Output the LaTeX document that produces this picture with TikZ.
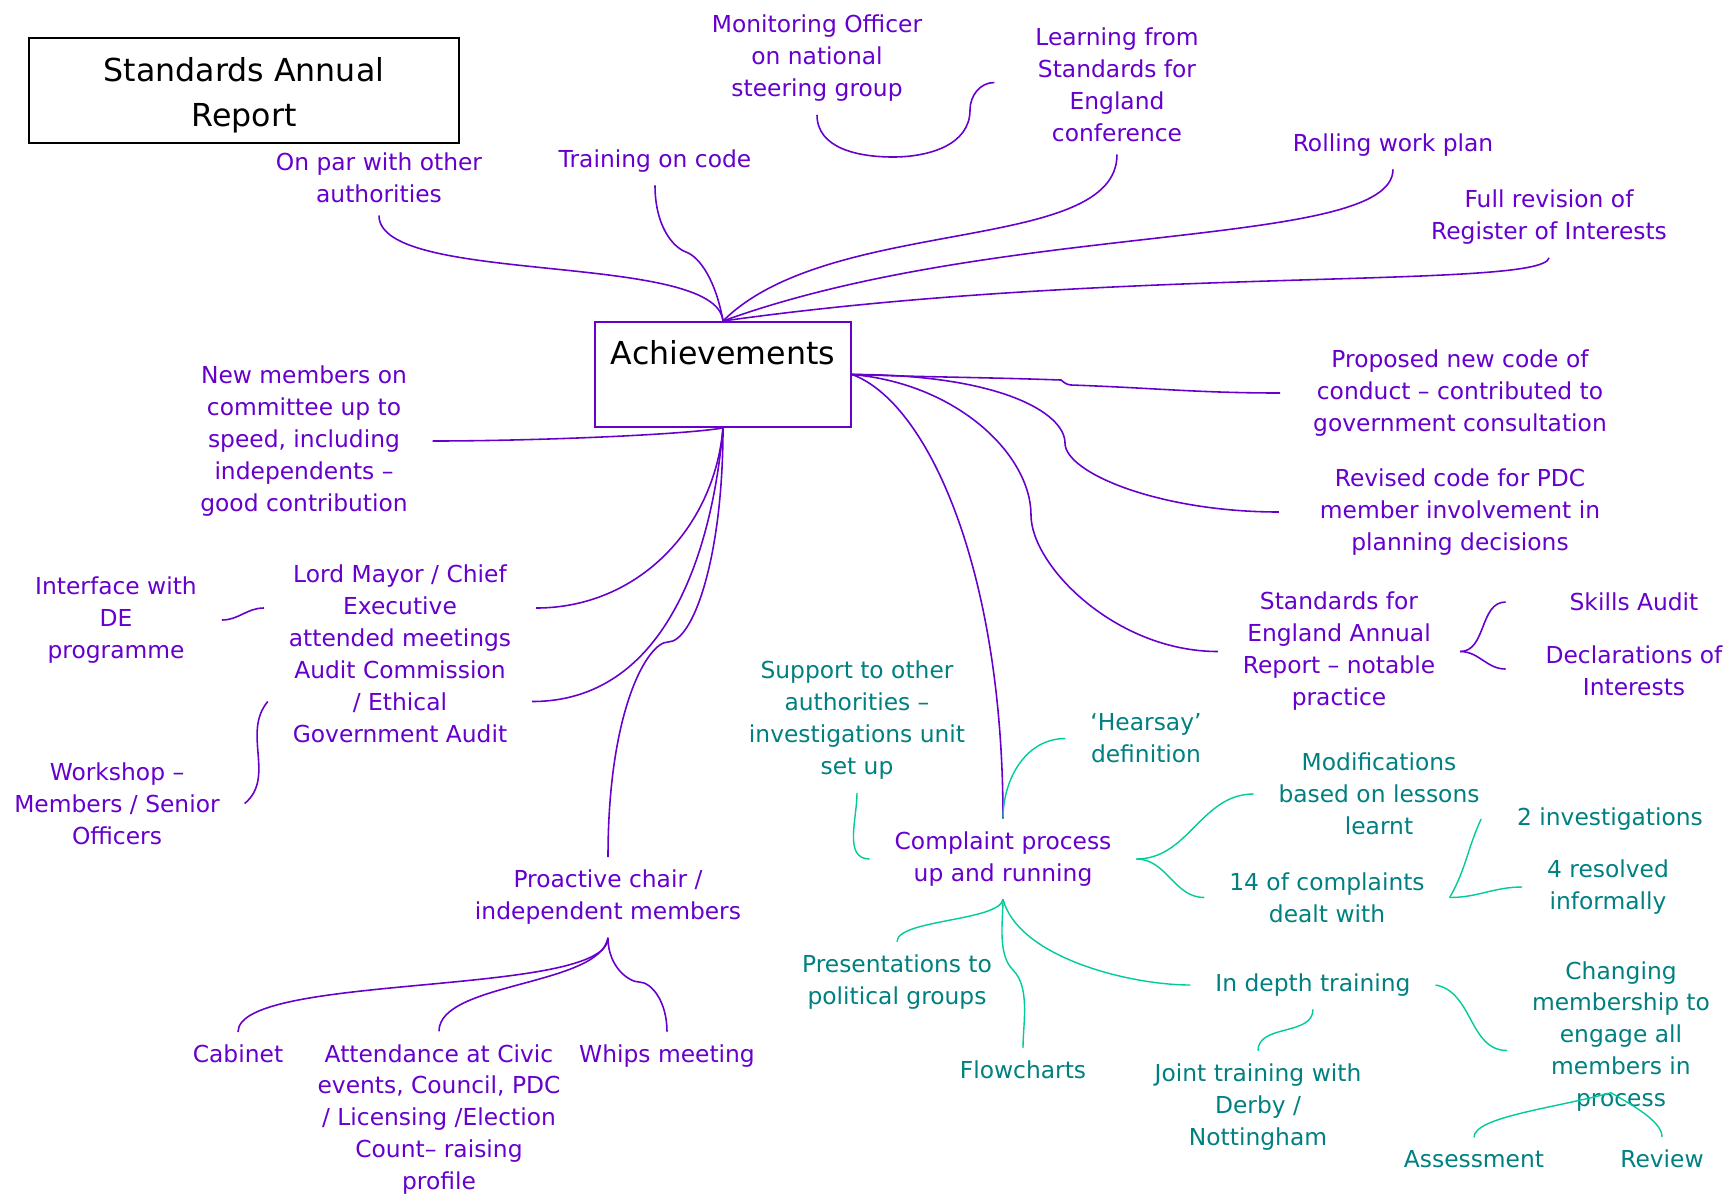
\documentclass[tikz,border=0pt]{standalone}
\usepackage{fontspec}
\setmainfont{DejaVu Sans}
\definecolor{achpurple}{RGB}{102,0,204}
\definecolor{achteal}{RGB}{0,128,128}
\definecolor{achgreen}{RGB}{0,204,153}

\begin{document}
\begin{tikzpicture}[x=0.02cm, y=-0.02cm,
	lbl/.style={align=center, inner sep=0pt, outer xsep=0.5cm, outer ysep=0.26cm, font=\fontsize{13.3}{18.2}\selectfont},
	plbl/.style={lbl, text=achpurple},
	tlbl/.style={lbl, text=achteal},
	pline/.style={draw=achpurple, line width=0.9pt},
	tline/.style={draw=achgreen, line width=0.8pt}]
	\useasboundingbox (0,0) rectangle (1731,1198);
	\node[draw, line width=1.1pt, minimum width=8.6cm, minimum height=2.1cm, align=center, font=\fontsize{18}{25.6}\selectfont] (title) at (244,90.5) {\rule{0pt}{0.68cm}Standards Annual\\Report};
	\node[draw=achpurple, line width=1.1pt, inner sep=0pt, minimum width=5.12cm, text height=0.86cm, text depth=1.24cm, anchor=north, font=\fontsize{18}{25.6}\selectfont] (ach) at (723,321) {Achievements};
	\node[plbl] (monitoring) at (817,58.5) {Monitoring Officer\\on national\\steering group};
	\node[plbl] (learning) at (1117,84.5) {Learning from\\Standards for\\England\\conference};
	\node[plbl] (onpar) at (379,177.5) {On par with other\\authorities};
	\node[plbl] (training) at (655,161) {Training on code};
	\node[plbl] (rolling) at (1393,145) {Rolling work plan};
	\node[plbl] (fullrev) at (1549,217.5) {Full revision of\\Register of Interests};
	\node[plbl] (newmem) at (304,441) {New members on\\committee up to\\speed, including\\independents –\\good contribution};
	\node[plbl] (proposed) at (1460,393) {Proposed new code of\\conduct – contributed to\\government consultation};
	\node[plbl] (revised) at (1460,512) {Revised code for PDC\\member involvement in\\planning decisions};
	\node[plbl] (sfe) at (1339,651.5) {Standards for\\England Annual\\Report – notable\\practice};
	\node[plbl] (skills) at (1634,602) {Skills Audit};
	\node[plbl] (decl) at (1634,671) {Declarations of\\Interests};
	\node[plbl] (interface) at (116,620) {Interface with\\DE\\programme};
	\node[plbl] (lordmayor) at (400,608) {Lord Mayor / Chief\\Executive\\attended meetings};
	\node[plbl] (audit) at (400,701.5) {Audit Commission\\/ Ethical\\Government Audit};
	\node[plbl] (workshop) at (117,803.5) {Workshop –\\Members / Senior\\Officers};
	\node[plbl] (proactive) at (608,897.5) {Proactive chair /\\independent members};
	\node[plbl] (cabinet) at (238,1054) {Cabinet};
	\node[plbl] (attendance) at (439,1119.5) {Attendance at Civic\\events, Council, PDC\\/ Licensing /Election\\Count– raising\\profile};
	\node[plbl] (whips) at (667,1056) {Whips meeting};
	\node[plbl] (complaint) at (1003,859) {Complaint process\\up and running};
	\node[tlbl] (support) at (857,720.5) {Support to other\\authorities –\\investigations unit\\set up};
	\node[tlbl] (hearsay) at (1146,738.5) {‘Hearsay’\\definition};
	\node[tlbl] (modif) at (1379,794) {Modifications\\based on lessons\\learnt};
	\node[tlbl] (fourteen) at (1327,897.5) {14 of complaints\\dealt with};
	\node[tlbl] (twoinv) at (1610,819) {2 investigations};
	\node[tlbl] (fourres) at (1608,887) {4 resolved\\informally};
	\node[tlbl] (present) at (897,982) {Presentations to\\political groups};
	\node[tlbl] (flow) at (1023,1070) {Flowcharts};
	\node[tlbl] (indepth) at (1313,985) {In depth training};
	\node[tlbl] (joint) at (1258,1107) {Joint training with\\Derby /\\Nottingham};
	\node[tlbl] (changing) at (1621,1036.5) {Changing\\membership to\\engage all\\members in\\process};
	\node[tlbl] (assess) at (1474,1159) {Assessment};
	\node[tlbl] (review) at (1662,1159) {Review};
	\draw[pline] (onpar.south) to [out=-90,in=95,looseness=0.5] (ach.north);
	\draw[pline] (training.south) to [out=-90,in=160,out looseness=1.4,in looseness=0.5] (686,252) to [out=-20,in=100,out looseness=0.5,in looseness=1.3] (ach.north);
	\draw[pline] (learning.south) to [out=-90,in=45,out looseness=0.6,in looseness=0.9] (ach.north);
	\draw[pline] (rolling.south) to [out=-90,in=20,out looseness=0.3,in looseness=1.1] (ach.north);
	\draw[pline] (fullrev.south) to [out=-100,in=8,out looseness=0.1,in looseness=1.23] (ach.north);
	\draw[pline] (monitoring.south) to [out=-90,in=180] (893,157) to [out=0,in=-90] (970,110) to [out=90,in=180] ([shift={(-16,-2)}]learning.west);
	\draw[pline] (ach.east) to [out=-2,in=178] (1061,380) to [out=-40,in=175] (1071,385) to [out=-2,in=180] ([shift={(-8,0)}]proposed.west);
	\draw[pline] (ach.east) to [out=0,in=90,out looseness=1.7,in looseness=0.34] (1065,443) to [out=-90,in=180,out looseness=0.34,in looseness=1.36] ([shift={(-16,0)}]revised.west);
	\draw[pline] (ach.east) to [out=-5,in=90,out looseness=1.2,in looseness=0.67] (1031,515) to [out=-90,in=180,out looseness=0.56,in looseness=1.13] (sfe.west);
	\draw[pline] (ach.east) to [out=-20,in=90,out looseness=0.44,in looseness=1.36] (complaint.north);
	\draw[pline] (newmem.east) to [out=0,in=190,out looseness=0.88,in looseness=0.35] (ach.south);
	\draw[pline] (ach.south) to [out=-95,in=0] (lordmayor.east);
	\draw[pline] (ach.south) to [out=-95,in=0] (audit.east);
	\draw[pline] (ach.south) to [out=-90,in=0,out looseness=1.5,in looseness=0.29] (668,642) to [out=180,in=90,out looseness=0.23,in looseness=1.7] (proactive.north);
	\draw[pline] (interface.east) to [out=0,in=180] (lordmayor.west);
	\draw[pline] (workshop.east) to [out=40,in=-130] (audit.west);
	\draw[pline] (proactive.south) to [out=-90,in=90,looseness=0.4] (cabinet.north);
	\draw[pline] (proactive.south) to [out=-100,in=90,looseness=0.65] (attendance.north);
	\draw[pline] (proactive.south) to [out=-90,in=180,out looseness=1.4,in looseness=0.46] (639,982) to [out=0,in=90,out looseness=0.55,in looseness=1.37] (whips.north);
	\draw[pline] (sfe.east) to [out=0,in=180] ([shift={(-39,0)}]skills.west);
	\draw[pline] (sfe.east) to [out=0,in=180] ([shift={(-15,-2)}]decl.west);
	\draw[tline] (complaint.north) to [out=90,in=180] (hearsay.west);
	\draw[tline] (support.south) to [out=-90,in=180] (complaint.west);
	\draw[tline] (complaint.east) to [out=0,in=180] (modif.west);
	\draw[tline] (complaint.east) to [out=0,in=180] (fourteen.west);
	\draw[tline] (fourteen.east) to [out=60,in=-115] ([shift={(-11,0)}]twoinv.west);
	\draw[tline] (fourteen.east) to [out=0,in=180] (fourres.west);
	\draw[tline] (complaint.south) to [out=-100,in=90,looseness=0.5] (present.north);
	\draw[tline] (complaint.south) to [out=-90,in=135,looseness=0.8] (1013,970) to [out=-45,in=90,looseness=0.8] (flow.north);
	\draw[tline] (complaint.south) to [out=-75,in=180,looseness=0.75] (indepth.west);
	\draw[tline] (indepth.south) to [out=-90,in=90] (joint.north);
	\draw[tline] (indepth.east) to [out=-10,in=180] ([shift={(0,14)}]changing.west);
	\draw[tline] ([shift={(-10,-32)}]changing.south) to [out=-165,in=90,out looseness=1.07,in looseness=0.36] (assess.north);
	\draw[tline] ([shift={(-10,-32)}]changing.south) to [out=-30,in=90,out looseness=0.98,in looseness=0.59] (review.north);
\end{tikzpicture}
\end{document}
